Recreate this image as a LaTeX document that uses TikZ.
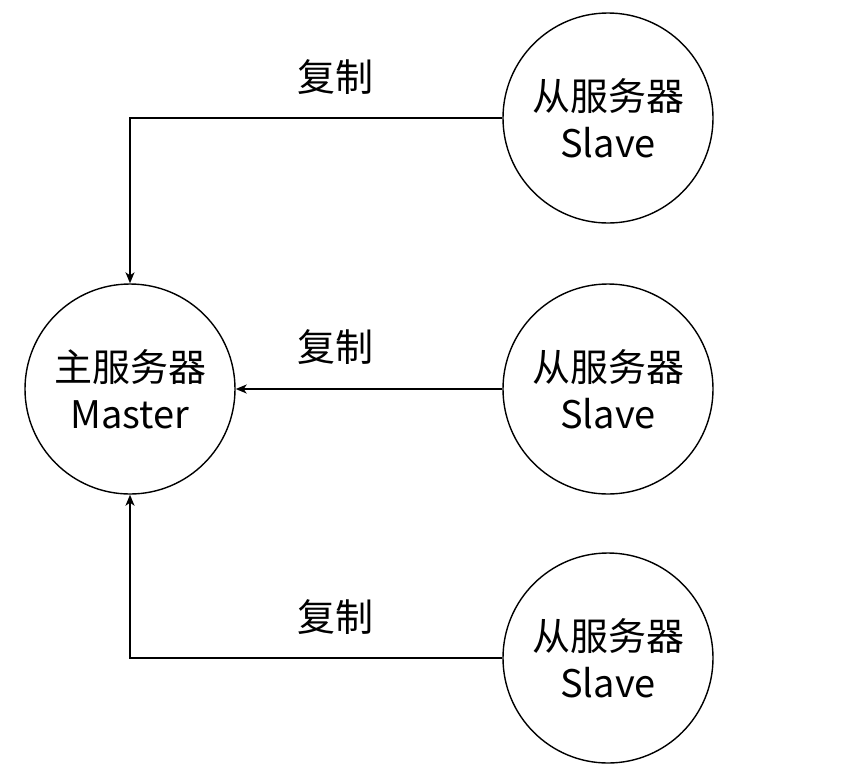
\documentclass[tikz,border=0pt]{standalone}
\usepackage{fontspec}
\setmainfont{Noto Sans CJK SC}
\usetikzlibrary{arrows.meta,positioning}

\begin{document}
\begin{tikzpicture}[
  x=1pt, y=-1pt,
  font=\fontsize{38}{47}\selectfont,
  server/.style={draw, circle, line width=1.4pt, minimum size=210pt,
                 inner sep=0pt, align=center},
  link/.style={line width=1.4pt, -{Stealth[length=11pt,width=9pt,inset=3pt]}},
  lbl/.style={inner sep=0pt},
]
\useasboundingbox (0,0) rectangle (843,780);

% Master
\node[server] (master) at (130,389) {主服务器\\Master};

% Slaves
\node[server] (slave1) at (608,118) {从服务器\\Slave};
\node[server] (slave2) at (608,389) {从服务器\\Slave};
\node[server] (slave3) at (608,658) {从服务器\\Slave};

% replication links
\draw[link] (slave1.west) -| (master.north);
\draw[link] (slave2.west) -- (master.east);
\draw[link] (slave3.west) -| (master.south);

\node[lbl] (copy1) at (335,77) {复制};
\node[lbl] (copy2) at (335,347) {复制};
\node[lbl] (copy3) at (335,617) {复制};
\end{tikzpicture}
\end{document}
